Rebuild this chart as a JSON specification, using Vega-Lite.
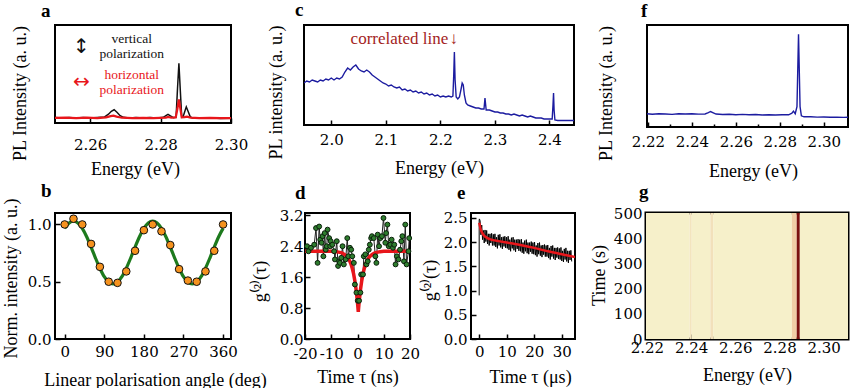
{
"$schema": "https://vega.github.io/schema/vega-lite/v6.json",
"background": "white",
"padding": {"left": 0, "top": 0, "right": 0, "bottom": 0},
"datasets": {
"a_spec": [
{"e":2.25,"i":0.055,"pol":"v"},{"e":2.252,"i":0.05,"pol":"v"},{"e":2.254,"i":0.056,"pol":"v"},{"e":2.256,"i":0.05,"pol":"v"},{"e":2.258,"i":0.055,"pol":"v"},{"e":2.26,"i":0.05,"pol":"v"},{"e":2.262,"i":0.056,"pol":"v"},{"e":2.264,"i":0.06,"pol":"v"},{"e":2.2652,"i":0.09,"pol":"v"},{"e":2.266,"i":0.12,"pol":"v"},{"e":2.2668,"i":0.135,"pol":"v"},{"e":2.2676,"i":0.11,"pol":"v"},{"e":2.2685,"i":0.075,"pol":"v"},{"e":2.2695,"i":0.058,"pol":"v"},{"e":2.271,"i":0.052,"pol":"v"},{"e":2.273,"i":0.056,"pol":"v"},{"e":2.275,"i":0.05,"pol":"v"},{"e":2.277,"i":0.055,"pol":"v"},{"e":2.279,"i":0.05,"pol":"v"},{"e":2.2808,"i":0.058,"pol":"v"},{"e":2.2815,"i":0.075,"pol":"v"},{"e":2.2821,"i":0.088,"pol":"v"},{"e":2.2828,"i":0.072,"pol":"v"},{"e":2.2836,"i":0.055,"pol":"v"},{"e":2.2844,"i":0.06,"pol":"v"},{"e":2.2848,"i":0.35,"pol":"v"},{"e":2.2852,"i":0.61,"pol":"v"},{"e":2.2856,"i":0.33,"pol":"v"},{"e":2.286,"i":0.06,"pol":"v"},{"e":2.2864,"i":0.065,"pol":"v"},{"e":2.2868,"i":0.11,"pol":"v"},{"e":2.2873,"i":0.165,"pol":"v"},{"e":2.2878,"i":0.12,"pol":"v"},{"e":2.2884,"i":0.065,"pol":"v"},{"e":2.289,"i":0.052,"pol":"v"},{"e":2.291,"i":0.05,"pol":"v"},{"e":2.293,"i":0.048,"pol":"v"},{"e":2.295,"i":0.05,"pol":"v"},{"e":2.297,"i":0.046,"pol":"v"},{"e":2.3,"i":0.048,"pol":"v"},
{"e":2.25,"i":0.052,"pol":"h"},{"e":2.253,"i":0.055,"pol":"h"},{"e":2.256,"i":0.05,"pol":"h"},{"e":2.259,"i":0.054,"pol":"h"},{"e":2.262,"i":0.05,"pol":"h"},{"e":2.2645,"i":0.058,"pol":"h"},{"e":2.2658,"i":0.07,"pol":"h"},{"e":2.2666,"i":0.075,"pol":"h"},{"e":2.2675,"i":0.065,"pol":"h"},{"e":2.269,"i":0.054,"pol":"h"},{"e":2.272,"i":0.05,"pol":"h"},{"e":2.275,"i":0.053,"pol":"h"},{"e":2.278,"i":0.05,"pol":"h"},{"e":2.2815,"i":0.055,"pol":"h"},{"e":2.2822,"i":0.062,"pol":"h"},{"e":2.283,"i":0.054,"pol":"h"},{"e":2.2843,"i":0.056,"pol":"h"},{"e":2.2848,"i":0.15,"pol":"h"},{"e":2.2852,"i":0.24,"pol":"h"},{"e":2.2856,"i":0.15,"pol":"h"},{"e":2.286,"i":0.058,"pol":"h"},{"e":2.2868,"i":0.06,"pol":"h"},{"e":2.2875,"i":0.065,"pol":"h"},{"e":2.2885,"i":0.055,"pol":"h"},{"e":2.291,"i":0.05,"pol":"h"},{"e":2.294,"i":0.052,"pol":"h"},{"e":2.297,"i":0.05,"pol":"h"},{"e":2.3,"i":0.05,"pol":"h"}
],
"a_text": [
{"e":2.2718,"i":0.857,"t":"vertical","pol":"v","kind":"word"},
{"e":2.2718,"i":0.70,"t":"polarization","pol":"v","kind":"word"},
{"e":2.2718,"i":0.49,"t":"horizontal","pol":"h","kind":"word"},
{"e":2.2718,"i":0.34,"t":"polarization","pol":"h","kind":"word"},
{"e":2.2575,"i":0.78,"t":"↕","pol":"v","kind":"arrow"},
{"e":2.2575,"i":0.414,"t":"↔","pol":"h","kind":"arrow"}
],
"c_spec": [
{"e":1.950,"i":0.42},{"e":1.955,"i":0.44},{"e":1.960,"i":0.43},{"e":1.965,"i":0.45},{"e":1.970,"i":0.44},{"e":1.975,"i":0.43},{"e":1.980,"i":0.45},{"e":1.985,"i":0.44},{"e":1.990,"i":0.46},{"e":1.995,"i":0.45},{"e":2.000,"i":0.47},{"e":2.005,"i":0.45},{"e":2.010,"i":0.47},{"e":2.015,"i":0.46},{"e":2.020,"i":0.48},{"e":2.025,"i":0.53},{"e":2.030,"i":0.57},{"e":2.035,"i":0.55},{"e":2.040,"i":0.58},{"e":2.045,"i":0.60},{"e":2.050,"i":0.56},{"e":2.055,"i":0.54},{"e":2.060,"i":0.53},{"e":2.065,"i":0.55},{"e":2.070,"i":0.53},{"e":2.075,"i":0.50},{"e":2.080,"i":0.48},{"e":2.085,"i":0.46},{"e":2.090,"i":0.44},{"e":2.095,"i":0.42},{"e":2.100,"i":0.41},{"e":2.105,"i":0.39},{"e":2.110,"i":0.40},{"e":2.115,"i":0.38},{"e":2.120,"i":0.37},{"e":2.125,"i":0.38},{"e":2.130,"i":0.35},{"e":2.135,"i":0.36},{"e":2.140,"i":0.34},{"e":2.145,"i":0.35},{"e":2.150,"i":0.33},{"e":2.155,"i":0.34},{"e":2.160,"i":0.32},{"e":2.165,"i":0.33},{"e":2.170,"i":0.31},{"e":2.175,"i":0.32},{"e":2.180,"i":0.30},{"e":2.185,"i":0.31},{"e":2.190,"i":0.29},{"e":2.195,"i":0.30},{"e":2.200,"i":0.28},{"e":2.205,"i":0.29},{"e":2.210,"i":0.28},{"e":2.215,"i":0.29},{"e":2.220,"i":0.28},{"e":2.223,"i":0.29},{"e":2.2245,"i":0.50},{"e":2.2257,"i":0.73},{"e":2.227,"i":0.45},{"e":2.229,"i":0.28},{"e":2.232,"i":0.26},{"e":2.235,"i":0.28},{"e":2.238,"i":0.36},{"e":2.240,"i":0.42},{"e":2.242,"i":0.40},{"e":2.244,"i":0.30},{"e":2.247,"i":0.22},{"e":2.250,"i":0.20},{"e":2.255,"i":0.19},{"e":2.260,"i":0.18},{"e":2.265,"i":0.17},{"e":2.270,"i":0.17},{"e":2.275,"i":0.16},{"e":2.280,"i":0.16},{"e":2.2818,"i":0.27},{"e":2.284,"i":0.15},{"e":2.290,"i":0.15},{"e":2.295,"i":0.14},{"e":2.300,"i":0.13},{"e":2.305,"i":0.13},{"e":2.310,"i":0.12},{"e":2.315,"i":0.12},{"e":2.320,"i":0.11},{"e":2.325,"i":0.11},{"e":2.330,"i":0.10},{"e":2.335,"i":0.11},{"e":2.340,"i":0.10},{"e":2.345,"i":0.09},{"e":2.350,"i":0.10},{"e":2.355,"i":0.09},{"e":2.360,"i":0.08},{"e":2.365,"i":0.09},{"e":2.370,"i":0.08},{"e":2.375,"i":0.07},{"e":2.380,"i":0.07},{"e":2.385,"i":0.07},{"e":2.390,"i":0.06},{"e":2.395,"i":0.06},{"e":2.400,"i":0.06},{"e":2.405,"i":0.06},{"e":2.4065,"i":0.20},{"e":2.4075,"i":0.32},{"e":2.4085,"i":0.15},{"e":2.410,"i":0.05},{"e":2.415,"i":0.045},{"e":2.420,"i":0.045},{"e":2.425,"i":0.045},{"e":2.430,"i":0.045},{"e":2.435,"i":0.045},{"e":2.440,"i":0.045},{"e":2.445,"i":0.045}
],
"c_text": [
{"e":2.125,"i":0.86,"t":"correlated line"},
{"e":2.2245,"i":0.86,"t":"↓"}
],
"f_spec": [
{"e":2.2196,"i":0.13},{"e":2.222,"i":0.125},{"e":2.225,"i":0.13},{"e":2.228,"i":0.128},{"e":2.231,"i":0.124},{"e":2.234,"i":0.13},{"e":2.237,"i":0.127},{"e":2.240,"i":0.13},{"e":2.243,"i":0.126},{"e":2.246,"i":0.128},{"e":2.2475,"i":0.14},{"e":2.2485,"i":0.152},{"e":2.2495,"i":0.142},{"e":2.251,"i":0.127},{"e":2.254,"i":0.122},{"e":2.257,"i":0.125},{"e":2.260,"i":0.12},{"e":2.263,"i":0.124},{"e":2.266,"i":0.12},{"e":2.269,"i":0.122},{"e":2.272,"i":0.118},{"e":2.275,"i":0.12},{"e":2.278,"i":0.117},{"e":2.281,"i":0.12},{"e":2.284,"i":0.12},{"e":2.2855,"i":0.135},{"e":2.2862,"i":0.155},{"e":2.2870,"i":0.13},{"e":2.2878,"i":0.2},{"e":2.2885,"i":0.91},{"e":2.2892,"i":0.2},{"e":2.2898,"i":0.11},{"e":2.291,"i":0.1},{"e":2.294,"i":0.1},{"e":2.297,"i":0.097},{"e":2.300,"i":0.098},{"e":2.303,"i":0.095},{"e":2.306,"i":0.096},{"e":2.309,"i":0.094},{"e":2.311,"i":0.095}
],
"g_heat": [
{"e0":2.2196,"e1":2.2393,"t0":0,"t1":500,"v":0.02},
{"e0":2.2393,"e1":2.2403,"t0":0,"t1":500,"v":0.12},
{"e0":2.2403,"e1":2.2487,"t0":0,"t1":500,"v":0.02},
{"e0":2.2487,"e1":2.2500,"t0":0,"t1":500,"v":0.15},
{"e0":2.2500,"e1":2.2856,"t0":0,"t1":500,"v":0.02},
{"e0":2.2856,"e1":2.2878,"t0":0,"t1":500,"v":0.3},
{"e0":2.2878,"e1":2.2892,"t0":0,"t1":500,"v":1.0},
{"e0":2.2892,"e1":2.311,"t0":0,"t1":500,"v":0.02}
],
"b_pts": [
{"ang":0,"n":1.0},{"ang":20,"n":1.05},{"ang":40,"n":1.0},{"ang":60,"n":0.83},{"ang":80,"n":0.63},{"ang":100,"n":0.5},{"ang":120,"n":0.49},{"ang":140,"n":0.59},{"ang":160,"n":0.77},{"ang":180,"n":0.95},{"ang":200,"n":1.0},{"ang":220,"n":0.94},{"ang":240,"n":0.82},{"ang":260,"n":0.61},{"ang":280,"n":0.51},{"ang":300,"n":0.5},{"ang":320,"n":0.59},{"ang":340,"n":0.77},{"ang":360,"n":1.0}
],
"b_fit": [
{"ang":0,"n":0.966},{"ang":10,"n":1.013},{"ang":20,"n":1.03},{"ang":30,"n":1.013},{"ang":40,"n":0.966},{"ang":50,"n":0.893},{"ang":60,"n":0.803},{"ang":70,"n":0.707},{"ang":80,"n":0.618},{"ang":90,"n":0.544},{"ang":100,"n":0.497},{"ang":110,"n":0.48},{"ang":120,"n":0.497},{"ang":130,"n":0.544},{"ang":140,"n":0.618},{"ang":150,"n":0.707},{"ang":160,"n":0.803},{"ang":170,"n":0.893},{"ang":180,"n":0.966},{"ang":190,"n":1.013},{"ang":200,"n":1.03},{"ang":210,"n":1.013},{"ang":220,"n":0.966},{"ang":230,"n":0.893},{"ang":240,"n":0.803},{"ang":250,"n":0.707},{"ang":260,"n":0.618},{"ang":270,"n":0.544},{"ang":280,"n":0.497},{"ang":290,"n":0.48},{"ang":300,"n":0.497},{"ang":310,"n":0.544},{"ang":320,"n":0.618},{"ang":330,"n":0.707},{"ang":340,"n":0.803},{"ang":350,"n":0.893},{"ang":360,"n":0.966}
],
"d_pts": [
{"t":-19.2,"g":2.40},{"t":-18.7,"g":2.27},{"t":-17.7,"g":2.36},{"t":-16.5,"g":2.44},{"t":-15.8,"g":2.87},{"t":-15.2,"g":1.97},{"t":-14.6,"g":2.91},{"t":-14.2,"g":2.57},{"t":-13.7,"g":2.49},{"t":-13.3,"g":2.66},{"t":-13.0,"g":2.14},{"t":-12.5,"g":2.74},{"t":-12.1,"g":2.31},{"t":-11.7,"g":2.40},{"t":-11.4,"g":2.83},{"t":-10.8,"g":2.61},{"t":-10.4,"g":2.40},{"t":-10.2,"g":2.53},{"t":-9.6,"g":2.44},{"t":-8.9,"g":2.27},{"t":-8.6,"g":2.06},{"t":-7.9,"g":2.53},{"t":-7.4,"g":1.89},{"t":-7.0,"g":2.01},{"t":-6.7,"g":1.97},{"t":-6.2,"g":2.10},{"t":-5.7,"g":2.40},{"t":-5.2,"g":1.93},{"t":-4.5,"g":2.06},{"t":-3.9,"g":2.61},{"t":-3.5,"g":2.14},{"t":-2.9,"g":2.36},{"t":-2.4,"g":2.31},{"t":-2.0,"g":2.14},{"t":-1.4,"g":1.97},{"t":-1.0,"g":1.41},{"t":-0.4,"g":1.20},{"t":0.1,"g":0.99},{"t":0.6,"g":0.99},{"t":1.1,"g":1.20},{"t":1.4,"g":1.67},{"t":2.1,"g":1.67},{"t":2.4,"g":2.14},{"t":3.0,"g":2.19},{"t":3.4,"g":1.93},{"t":3.9,"g":2.01},{"t":4.3,"g":2.31},{"t":4.7,"g":2.44},{"t":5.2,"g":2.61},{"t":5.5,"g":2.66},{"t":6.2,"g":2.61},{"t":6.8,"g":2.14},{"t":7.2,"g":1.97},{"t":7.7,"g":2.70},{"t":8.2,"g":2.40},{"t":8.7,"g":2.61},{"t":9.3,"g":2.66},{"t":9.9,"g":3.13},{"t":10.6,"g":2.49},{"t":10.9,"g":2.74},{"t":11.4,"g":2.96},{"t":11.9,"g":2.40},{"t":12.5,"g":2.44},{"t":13.0,"g":2.57},{"t":13.5,"g":2.36},{"t":14.0,"g":2.44},{"t":14.5,"g":1.93},{"t":15.0,"g":2.14},{"t":15.6,"g":2.06},{"t":16.2,"g":2.31},{"t":16.7,"g":2.53},{"t":17.1,"g":2.66},{"t":17.7,"g":2.01},{"t":18.2,"g":2.96},{"t":18.7,"g":1.93},{"t":19.4,"g":2.27},{"t":19.7,"g":2.61}
],
"d_fit": [
{"t":-20,"g":2.27},{"t":-10,"g":2.27},{"t":-8,"g":2.26},{"t":-6,"g":2.23},{"t":-5,"g":2.19},{"t":-4,"g":2.13},{"t":-3,"g":2.02},{"t":-2.5,"g":1.94},{"t":-2,"g":1.83},{"t":-1.5,"g":1.69},{"t":-1,"g":1.50},{"t":-0.5,"g":1.26},{"t":0,"g":0.94},{"t":0.3,"g":0.70},{"t":0.6,"g":0.94},{"t":1.1,"g":1.26},{"t":1.6,"g":1.50},{"t":2.1,"g":1.69},{"t":2.6,"g":1.83},{"t":3.1,"g":1.94},{"t":3.6,"g":2.02},{"t":4.6,"g":2.13},{"t":5.6,"g":2.19},{"t":6.6,"g":2.23},{"t":8.6,"g":2.26},{"t":10,"g":2.27},{"t":20,"g":2.27}
],
"e_data": [
{"t":0.05,"g":2.48},{"t":0.3,"g":2.44},{"t":0.6,"g":2.15},{"t":0.9,"g":2.35},{"t":1.2,"g":2.05},{"t":1.5,"g":2.24},{"t":1.8,"g":1.98},{"t":2.1,"g":2.25},{"t":2.4,"g":2.01},{"t":2.7,"g":2.24},{"t":3.0,"g":1.96},{"t":3.3,"g":2.17},{"t":3.6,"g":1.93},{"t":3.9,"g":2.17},{"t":4.2,"g":1.98},{"t":4.5,"g":2.18},{"t":4.8,"g":1.93},{"t":5.1,"g":2.16},{"t":5.4,"g":1.93},{"t":5.7,"g":2.17},{"t":6.0,"g":1.90},{"t":6.3,"g":2.10},{"t":6.6,"g":1.87},{"t":6.9,"g":2.15},{"t":7.2,"g":1.93},{"t":7.5,"g":2.16},{"t":7.8,"g":1.89},{"t":8.1,"g":2.10},{"t":8.4,"g":1.86},{"t":8.7,"g":2.11},{"t":9.0,"g":1.91},{"t":9.3,"g":2.12},{"t":9.6,"g":1.88},{"t":9.9,"g":2.10},{"t":10.2,"g":1.87},{"t":10.5,"g":2.12},{"t":10.8,"g":1.84},{"t":11.1,"g":2.05},{"t":11.4,"g":1.81},{"t":11.7,"g":2.09},{"t":12.0,"g":1.87},{"t":12.3,"g":2.10},{"t":12.6,"g":1.83},{"t":12.9,"g":2.05},{"t":13.2,"g":1.80},{"t":13.5,"g":2.05},{"t":13.8,"g":1.86},{"t":14.1,"g":2.06},{"t":14.4,"g":1.82},{"t":14.7,"g":2.05},{"t":15.0,"g":1.81},{"t":15.3,"g":2.06},{"t":15.6,"g":1.78},{"t":15.9,"g":1.99},{"t":16.2,"g":1.76},{"t":16.5,"g":2.03},{"t":16.8,"g":1.81},{"t":17.1,"g":2.05},{"t":17.4,"g":1.77},{"t":17.7,"g":1.99},{"t":18.0,"g":1.75},{"t":18.3,"g":1.99},{"t":18.6,"g":1.80},{"t":18.9,"g":2.01},{"t":19.2,"g":1.76},{"t":19.5,"g":1.99},{"t":19.8,"g":1.75},{"t":20.1,"g":2.00},{"t":20.4,"g":1.73},{"t":20.7,"g":1.93},{"t":21.0,"g":1.70},{"t":21.3,"g":1.98},{"t":21.6,"g":1.75},{"t":21.9,"g":1.99},{"t":22.2,"g":1.72},{"t":22.5,"g":1.93},{"t":22.8,"g":1.69},{"t":23.1,"g":1.94},{"t":23.4,"g":1.74},{"t":23.7,"g":1.95},{"t":24.0,"g":1.70},{"t":24.3,"g":1.93},{"t":24.6,"g":1.70},{"t":24.9,"g":1.94},{"t":25.2,"g":1.67},{"t":25.5,"g":1.88},{"t":25.8,"g":1.64},{"t":26.1,"g":1.92},{"t":26.4,"g":1.70},{"t":26.7,"g":1.93},{"t":27.0,"g":1.66},{"t":27.3,"g":1.88},{"t":27.6,"g":1.63},{"t":27.9,"g":1.88},{"t":28.2,"g":1.68},{"t":28.5,"g":1.89},{"t":28.8,"g":1.65},{"t":29.1,"g":1.87},{"t":29.4,"g":1.64},{"t":29.7,"g":1.89},{"t":30.0,"g":1.61},{"t":30.3,"g":1.82},{"t":30.6,"g":1.59},{"t":30.9,"g":1.86},{"t":31.2,"g":1.64},{"t":31.5,"g":1.88},{"t":31.8,"g":1.60},{"t":32.1,"g":1.82},{"t":32.4,"g":1.57},{"t":32.7,"g":1.82},{"t":33.0,"g":1.63},{"t":33.3,"g":1.83},{"t":33.6,"g":1.60}
],
"e_fit": [
{"t":0,"g":2.40},{"t":0.25,"g":2.33},{"t":0.5,"g":2.27},{"t":0.75,"g":2.23},{"t":1,"g":2.20},{"t":1.5,"g":2.15},{"t":2,"g":2.12},{"t":3,"g":2.08},{"t":4,"g":2.055},{"t":5,"g":2.04},{"t":7,"g":2.02},{"t":10,"g":1.99},{"t":15,"g":1.94},{"t":20,"g":1.88},{"t":25,"g":1.81},{"t":30,"g":1.75},{"t":34.8,"g":1.69}
],
"e_rise": [{"t":0,"lo":0.9,"hi":2.47}]
},
"vconcat": [
{
"hconcat": [
{
"width": 176, "height": 98,
"title": {"text": "a", "dx": -14, "offset": 4.5},
"encoding": {
 "x": {"field": "e", "type": "quantitative", "scale": {"domain": [2.25, 2.30], "nice": false, "zero": false},
  "axis": {"values": [2.26, 2.28, 2.30], "format": ".2f", "title": "Energy (eV)", "labelPadding": 19, "titleBaseline": "alphabetic", "titleY": 51, "titleX": 80}},
 "y": {"field": "i", "type": "quantitative", "scale": {"domain": [0, 1], "nice": false},
  "axis": {"labels": false, "ticks": false, "title": "PL Intensity (a. u.)", "titleX": -30, "titleY": 68, "titleAlign": "center", "titleBaseline": "alphabetic"}}
},
"layer": [
 {"data": {"name": "a_spec"}, "transform": [{"filter": "datum.pol == 'v'"}], "mark": {"type": "line", "color": "#111111", "strokeWidth": 1.5, "clip": true}},
 {"data": {"name": "a_spec"}, "transform": [{"filter": "datum.pol == 'h'"}], "mark": {"type": "line", "color": "#e8161b", "strokeWidth": 2.2, "clip": true}},
 {"data": {"name": "a_text"}, "transform": [{"filter": "datum.kind == 'word'"}], "mark": {"type": "text", "font": "Liberation Serif", "fontSize": 13.5, "baseline": "middle", "align": "center"},
  "encoding": {"text": {"field": "t"}, "color": {"field": "pol", "type": "nominal", "scale": {"domain": ["v", "h"], "range": ["#111111", "#e8161b"]}, "legend": null}}},
 {"data": {"name": "a_text"}, "transform": [{"filter": "datum.kind == 'arrow'"}], "mark": {"type": "text", "font": "DejaVu Sans", "fontSize": 20, "baseline": "middle", "align": "center"},
  "encoding": {"text": {"field": "t"}, "color": {"field": "pol", "type": "nominal", "scale": {"domain": ["v", "h"], "range": ["#111111", "#e8161b"]}, "legend": null}}}
]
},
{
"width": 270, "height": 100,
"title": {"text": "c", "dx": -9, "offset": 4.5},
"encoding": {
 "x": {"field": "e", "type": "quantitative", "scale": {"domain": [1.95, 2.445], "nice": false, "zero": false},
  "axis": {"values": [2.0, 2.1, 2.2, 2.3, 2.4], "format": ".1f", "title": "Energy (eV)", "labelPadding": 12.5, "titleBaseline": "alphabetic", "titleY": 48.5}},
 "y": {"field": "i", "type": "quantitative", "scale": {"domain": [0, 1], "nice": false},
  "axis": {"labels": false, "ticks": false, "title": "PL intensity (a. u.)", "titleX": -23, "titleY": 67, "titleAlign": "center", "titleBaseline": "alphabetic"}}
},
"layer": [
 {"data": {"name": "c_spec"}, "mark": {"type": "line", "color": "#1c1ca0", "strokeWidth": 1.4, "clip": true}},
 {"data": {"name": "c_text"}, "mark": {"type": "text", "font": "Liberation Serif", "fontSize": 17, "baseline": "middle", "align": "center", "color": "#a31d1d"}, "encoding": {"text": {"field": "t"}}}
]
},
{
"width": 201, "height": 102,
"title": {"text": "f", "dx": -6, "offset": 4.5},
"resolve": {"axis": {"x": "independent"}},
"layer": [
 {"data": {"name": "f_spec"}, "mark": {"type": "line", "color": "#1c1ca0", "strokeWidth": 1.4, "clip": true},
  "encoding": {
   "x": {"field": "e", "type": "quantitative", "scale": {"domain": [2.2196, 2.311], "nice": false, "zero": false},
    "axis": {"values": [2.22, 2.24, 2.26, 2.28, 2.30], "format": ".2f", "title": "Energy (eV)", "labelPadding": 12, "titleBaseline": "alphabetic", "titleY": 49, "titleX": 106, "orient": "bottom"}},
   "y": {"field": "i", "type": "quantitative", "scale": {"domain": [0, 1], "nice": false},
    "axis": {"labels": false, "ticks": false, "title": "PL Intensity (a. u.)", "titleX": -36, "titleY": 68, "titleAlign": "center", "titleBaseline": "alphabetic"}}
  }},
 {"data": {"values": [{"m": 2.23}, {"m": 2.25}, {"m": 2.27}, {"m": 2.29}]}, "mark": {"type": "rule", "opacity": 0},
  "encoding": {"x": {"field": "m", "type": "quantitative", "scale": {"domain": [2.2196, 2.311], "nice": false, "zero": false},
   "axis": {"values": [2.23, 2.25, 2.27, 2.29], "labels": false, "title": null, "tickSize": -3, "orient": "bottom"}}}}
]
}
],
"spacing": 73,
"bounds": "flush"
},
{
"hconcat": [
{
"width": 176, "height": 126,
"title": {"text": "b", "dx": -14, "offset": -3},
"encoding": {
 "x": {"field": "ang", "type": "quantitative", "scale": {"domain": [-22, 378], "nice": false, "zero": false},
  "axis": {"values": [0, 90, 180, 270, 360], "title": "Linear polarisation angle (deg)", "labelPadding": 10.5, "titleBaseline": "alphabetic", "titleY": 46, "titleX": 100}},
 "y": {"field": "n", "type": "quantitative", "scale": {"domain": [0, 1.1], "nice": false},
  "axis": {"values": [0, 0.5, 1.0], "format": ".1f", "labelPadding": 9, "title": "Norm. intensity (a. u.)", "titleX": -39, "titleY": 65, "titleAlign": "center", "titleBaseline": "alphabetic"}}
},
"layer": [
 {"data": {"name": "b_fit"}, "mark": {"type": "line", "color": "#1d7a1d", "strokeWidth": 3.2, "interpolate": "monotone"}},
 {"data": {"name": "b_pts"}, "mark": {"type": "point", "filled": true, "fill": "#f5921e", "stroke": "#111111", "strokeWidth": 1, "size": 58, "opacity": 1}}
]
},
{"width": 74, "height": 126, "data": {"values": [{"s": 0}]}, "mark": {"type": "point", "opacity": 0}, "encoding": {}, "view": {"stroke": null}},
{
"width": 105, "height": 126,
"title": {"text": "d", "dx": -10, "offset": 5.5},
"encoding": {
 "x": {"field": "t", "type": "quantitative", "scale": {"domain": [-20, 20], "nice": false, "zero": false},
  "axis": {"values": [-20, -10, 0, 10, 20], "labelExpr": "datum.value", "title": "Time τ (ns)", "labelPadding": 12, "titleBaseline": "alphabetic", "titleY": 43.6}},
 "y": {"field": "g", "type": "quantitative", "scale": {"domain": [0, 3.26], "nice": false},
  "axis": {"values": [0, 0.8, 1.6, 2.4, 3.2], "format": ".1f", "labelPadding": 7, "title": "g⁽²⁾(τ)", "titleX": -40, "titleY": 68, "titleAlign": "center", "titleBaseline": "alphabetic"}}
},
"layer": [
 {"data": {"name": "d_pts"}, "mark": {"type": "line", "color": "#222222", "strokeWidth": 1, "clip": true}},
 {"data": {"name": "d_fit"}, "mark": {"type": "line", "color": "#e8161b", "strokeWidth": 3.5, "clip": true}},
 {"data": {"name": "d_pts"}, "mark": {"type": "point", "filled": true, "fill": "#2e7d2e", "stroke": "#0a1f0a", "strokeWidth": 1, "size": 24, "opacity": 1}}
]
},
{"width": 61, "height": 126, "data": {"values": [{"s": 0}]}, "mark": {"type": "point", "opacity": 0}, "encoding": {}, "view": {"stroke": null}},
{
"width": 104, "height": 126,
"title": {"text": "e", "dx": -14, "offset": 8},
"encoding": {
 "x": {"field": "t", "type": "quantitative", "scale": {"domain": [-3, 34.8], "nice": false, "zero": false},
  "axis": {"values": [0, 10, 20, 30], "title": "Time τ (μs)", "labelPadding": 10.5, "titleBaseline": "alphabetic", "titleY": 43.6, "titleX": 59}},
 "y": {"field": "g", "type": "quantitative", "scale": {"domain": [0, 2.6], "nice": false},
  "axis": {"values": [0, 0.5, 1.0, 1.5, 2.0, 2.5], "format": ".1f", "labelPadding": 9, "title": "g⁽²⁾(τ)", "titleX": -36, "titleY": 67, "titleAlign": "center", "titleBaseline": "alphabetic"}}
},
"layer": [
 {"data": {"name": "e_rise"}, "mark": {"type": "rule", "color": "#555555", "strokeWidth": 1.5}, "encoding": {"y": {"field": "lo", "type": "quantitative"}, "y2": {"field": "hi"}}},
 {"data": {"name": "e_data"}, "mark": {"type": "line", "color": "#000000", "strokeWidth": 1, "clip": true}},
 {"data": {"name": "e_fit"}, "mark": {"type": "line", "color": "#e8161b", "strokeWidth": 2.5, "clip": true, "interpolate": "monotone"}}
]
},
{"width": 71, "height": 126, "data": {"values": [{"s": 0}]}, "mark": {"type": "point", "opacity": 0}, "encoding": {}, "view": {"stroke": null}},
{
"width": 202, "height": 126,
"title": {"text": "g", "dx": -7, "offset": 4.5},
"view": {"stroke": "black", "strokeWidth": 3},
"resolve": {"axis": {"x": "independent", "y": "independent"}},
"layer": [
 {"data": {"name": "g_heat"}, "mark": {"type": "rect", "clip": true},
  "encoding": {
   "x": {"field": "e0", "type": "quantitative", "scale": {"domain": [2.2196, 2.311], "nice": false, "zero": false},
    "axis": {"values": [2.22, 2.24, 2.26, 2.28, 2.30], "format": ".2f", "title": "Energy (eV)", "labelPadding": 6.5, "titleBaseline": "alphabetic", "titleY": 41.7, "orient": "bottom"}},
   "x2": {"field": "e1"},
   "y": {"field": "t0", "type": "quantitative", "scale": {"domain": [0, 500], "nice": false},
    "axis": {"values": [0, 100, 200, 300, 400, 500], "labelPadding": 9, "title": "Time (s)", "titleX": -42, "titleY": 62, "titleAlign": "center", "titleBaseline": "alphabetic", "orient": "left"}},
   "y2": {"field": "t1"},
   "color": {"field": "v", "type": "quantitative", "scale": {"domain": [0, 0.15, 0.3, 1], "range": ["#f7f2cd", "#f2e0bb", "#f0cda6", "#7a0f0f"]}, "legend": null}
  }},
 {"data": {"values": [{"m": 2.23}, {"m": 2.25}, {"m": 2.27}, {"m": 2.29}]}, "mark": {"type": "rule", "opacity": 0},
  "encoding": {"x": {"field": "m", "type": "quantitative", "scale": {"domain": [2.2196, 2.311], "nice": false, "zero": false},
   "axis": {"values": [2.23, 2.25, 2.27, 2.29], "labels": false, "title": null, "tickSize": -3, "orient": "bottom"}}}},
 {"data": {"values": [{"k": 50}, {"k": 150}, {"k": 250}, {"k": 350}, {"k": 450}]}, "mark": {"type": "rule", "opacity": 0},
  "encoding": {"y": {"field": "k", "type": "quantitative", "scale": {"domain": [0, 500], "nice": false},
   "axis": {"values": [50, 150, 250, 350, 450], "labels": false, "title": null, "tickSize": -3, "orient": "left"}}}}
]
}
],
"spacing": 0,
"bounds": "flush"
}
],
"spacing": 188,
"bounds": "flush",
"config": {
 "view": {"stroke": "black", "strokeWidth": 2},
 "font": "Liberation Serif",
 "axis": {"domain": false, "grid": false, "ticks": true, "tickSize": -5, "tickWidth": 1.5, "tickColor": "black", "labelFont": "DejaVu Serif", "labelFontSize": 15, "labelColor": "black", "labelFlush": false, "labelOverlap": false, "labelBound": false, "titleFont": "Liberation Serif", "titleFontSize": 18, "titleFontWeight": "normal", "titleColor": "black", "zindex": 1},
 "title": {"font": "Liberation Serif", "fontSize": 19, "fontWeight": "bold", "anchor": "start", "frame": "group", "baseline": "alphabetic", "color": "black"}
}
}
